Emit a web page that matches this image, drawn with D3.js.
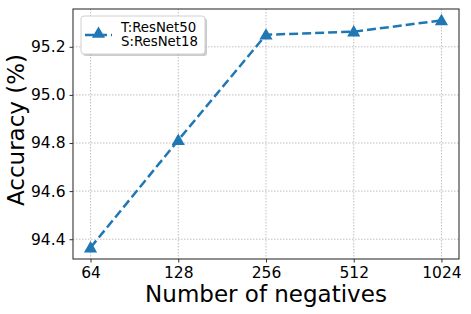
<!DOCTYPE html>
<html>
<head>
<meta charset="utf-8">
<script src="https://cdn.jsdelivr.net/npm/d3@7"></script>
<style>
  body { margin: 0; background: #fff; }
  text { font-family: "DejaVu Sans", sans-serif; }
</style>
</head>
<body>
<div id="chart"></div>
<script>
// values
const negatives = ["64", "128", "256", "512", "1024"];
const accuracy = [94.365, 94.812, 95.25, 95.263, 95.31];
const yTicks = [94.4, 94.6, 94.8, 95.0, 95.2];
const seriesName = ["T:ResNet50", "S:ResNet18"];

const margin = {top: 9, right: 12, bottom: 55, left: 73},
      width = 471 - margin.left - margin.right,
      height = 314 - margin.top - margin.bottom;

const svg = d3.select("#chart")
    .append("svg")
    .attr("width", width + margin.left + margin.right)
    .attr("height", height + margin.top + margin.bottom)
    .append("g")
    .attr("transform", `translate(${margin.left},${margin.top})`);

// matplotlib style 5% margins
const n = negatives.length;
const x = d3.scaleLinear()
    .domain([-0.05 * (n - 1), (n - 1) * 1.05])
    .range([0, width]);

const [lo, hi] = d3.extent(accuracy);
const pad = (hi - lo) * 0.05;
const y = d3.scaleLinear()
    .domain([lo - pad, hi + pad])
    .range([height, 0]);

// grid
const gridColor = "#b0b0b0";
svg.append("g")
    .selectAll("line")
    .data(yTicks)
    .enter()
    .append("line")
    .attr("x1", 0)
    .attr("x2", width)
    .attr("y1", d => y(d))
    .attr("y2", d => y(d))
    .attr("stroke", gridColor)
    .attr("stroke-width", 0.8)
    .attr("stroke-dasharray", "1.5,1.5");

svg.append("g")
    .selectAll("line")
    .data(negatives)
    .enter()
    .append("line")
    .attr("x1", (d, i) => x(i))
    .attr("x2", (d, i) => x(i))
    .attr("y1", 0)
    .attr("y2", height)
    .attr("stroke", gridColor)
    .attr("stroke-width", 0.8)
    .attr("stroke-dasharray", "1.5,1.5");

// axes
const xAxis = svg.append("g") /* X axis */
    .attr("transform", `translate(0,${height})`)
    .call(d3.axisBottom(x)
        .tickValues(d3.range(n))
        .tickFormat(i => negatives[i])
        .tickSize(3.5)
        .tickPadding(4));

const yAxis = svg.append("g") /* Y axis */
    .call(d3.axisLeft(y)
        .tickValues(yTicks)
        .tickFormat(d3.format(".1f"))
        .tickSize(3.5)
        .tickPadding(4));

[xAxis, yAxis].forEach(ax => {
    ax.select(".domain").remove();
    ax.selectAll("line").attr("stroke", "#333");
    ax.selectAll("text")
        .attr("fill", "#000")
        .style("font-size", "15.5px")
        .style("font-family", "'DejaVu Sans'");
});

// frame
svg.append("rect")
    .attr("width", width)
    .attr("height", height)
    .attr("fill", "none")
    .attr("stroke", "#333")
    .attr("stroke-width", 1.1);

// series
const lineColor = "#1f77b4";
const line = d3.line()
    .x((d, i) => x(i))
    .y(d => y(d));

svg.append("path")
    .datum(accuracy)
    .attr("d", line)
    .attr("fill", "none")
    .attr("stroke", lineColor)
    .attr("stroke-width", 2.5)
    .attr("stroke-dasharray", "9,4");

const tri = d3.symbol().type(d3.symbolTriangle).size(75);
svg.append("g")
    .selectAll("path")
    .data(accuracy)
    .enter()
    .append("path")
    .attr("d", tri)
    .attr("transform", (d, i) => `translate(${x(i)},${y(d) + 1})`)
    .attr("fill", lineColor);

// legend
const legend = svg.append("g")
    .attr("transform", "translate(8,7)");

legend.append("rect")
    .attr("x", 2)
    .attr("y", 2)
    .attr("width", 124)
    .attr("height", 38)
    .attr("rx", 3)
    .attr("fill", "#999")
    .attr("opacity", 0.5);

legend.append("rect")
    .attr("width", 124)
    .attr("height", 38)
    .attr("rx", 3)
    .attr("fill", "#fff")
    .attr("stroke", "#d0d0d0")
    .attr("stroke-width", 1);

legend.append("line")
    .attr("x1", 4)
    .attr("x2", 31)
    .attr("y1", 19)
    .attr("y2", 19)
    .attr("stroke", lineColor)
    .attr("stroke-width", 2.5)
    .attr("stroke-dasharray", "9,4");

legend.append("path")
    .attr("d", tri)
    .attr("transform", "translate(17.5,18)")
    .attr("fill", lineColor);

legend.selectAll("text.name")
    .data(seriesName)
    .enter()
    .append("text")
    .attr("class", "name")
    .attr("x", 40)
    .attr("y", (d, i) => 15.5 + i * 14)
    .attr("fill", "#000")
    .style("font-size", "13.3px")
    .text(d => d);

// axis labels
svg.append("text")
    .attr("x", width / 2)
    .attr("y", height + 43)
    .attr("text-anchor", "middle")
    .attr("fill", "#000")
    .style("font-size", "23px")
    .text("Number of negatives");

svg.append("text")
    .attr("transform", "rotate(-90)")
    .attr("x", -121)
    .attr("y", -49)
    .attr("text-anchor", "middle")
    .attr("fill", "#000")
    .style("font-size", "23px")
    .text("Accuracy (%)");
</script>
</body>
</html>
